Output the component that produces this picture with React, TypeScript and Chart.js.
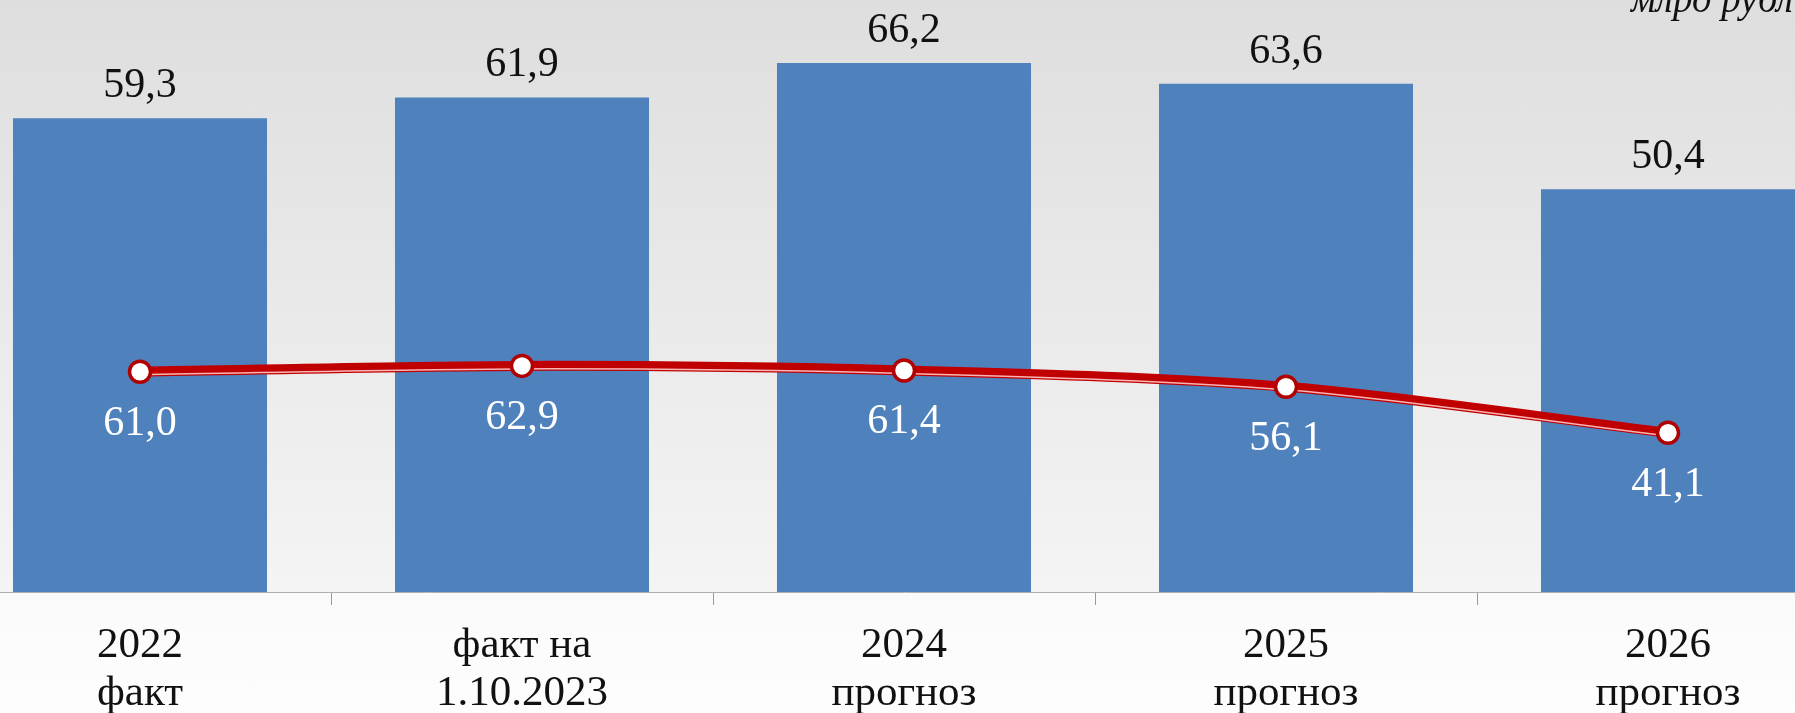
import { useEffect, useRef } from "react";
import { Chart, registerables } from "chart.js";

Chart.register(...registerables);

const categories = [
  ["2022", "факт"],
  ["факт на", "1.10.2023"],
  ["2024", "прогноз"],
  ["2025", "прогноз"],
  ["2026", "прогноз"],
];
const barValues = [59.3, 61.9, 66.2, 63.6, 50.4];
const lineValues = [61.0, 62.9, 61.4, 56.1, 41.1];
const unitLabel = "млрд рублей";

const SERIF = "'Liberation Serif', 'Times New Roman', serif";

// 61,0 instead of 61.0
const fmt = (v: number) => v.toFixed(1).replace(".", ",");

const labelsPlugin = {
  id: "valueLabels",
  afterDatasetsDraw(chart: any) {
    const ctx = chart.ctx;
    ctx.save();
    ctx.textAlign = "center";
    ctx.textBaseline = "alphabetic";
    ctx.font = `42px ${SERIF}`;

    chart.getDatasetMeta(0).data.forEach((el: any, i: number) => {
      ctx.fillStyle = "#111";
      ctx.fillText(fmt(barValues[i]), el.x, el.y - 21);
    });
    chart.getDatasetMeta(1).data.forEach((el: any, i: number) => {
      ctx.fillStyle = "#fff";
      ctx.fillText(fmt(lineValues[i]), el.x, el.y + 63);
    });

    // unit caption, top right (cut by the frame like in the source)
    ctx.font = `italic 39px ${SERIF}`;
    ctx.textAlign = "left";
    ctx.fillStyle = "#111";
    ctx.fillText(unitLabel, chart.scales.x.getPixelForValue(4) - 37, chart.chartArea.top + 52);
    ctx.restore();
  },
};

// the thin light stripe of the red line sits in its lower part
const shiftPlugin = {
  id: "shiftHighlight",
  beforeDatasetDraw(chart: any, args: any) {
    if (args.index === 2) {
      chart.ctx.save();
      chart.ctx.translate(0, 3);
    }
  },
  afterDatasetDraw(chart: any, args: any) {
    if (args.index === 2) chart.ctx.restore();
  },
};

export default function App() {
  const chartRef = useRef<HTMLCanvasElement>(null);
  const chartInstance = useRef<Chart | null>(null);

  useEffect(() => {
    if (!chartRef.current) return;
    if (chartInstance.current) chartInstance.current.destroy();

    const ctx = chartRef.current.getContext("2d");
    if (!ctx) return;

    chartInstance.current = new Chart(ctx, {
      type: "bar",
      data: {
        labels: categories,
        datasets: [
          {
            type: "bar",
            data: barValues,
            yAxisID: "y",
            backgroundColor: "#4F81BD",
            categoryPercentage: 1,
            barPercentage: 0.665,
            order: 3,
          },
          {
            type: "line",
            data: lineValues,
            yAxisID: "y1",
            borderColor: "#C00000",
            borderWidth: 10,
            tension: 0.3,
            pointRadius: 0,
            fill: false,
            order: 2,
          },
          {
            type: "line",
            data: lineValues,
            yAxisID: "y1",
            borderColor: "rgba(255, 200, 200, 0.9)",
            borderWidth: 1.5,
            tension: 0.3,
            pointRadius: 0,
            fill: false,
            order: 1,
          },
          {
            type: "line",
            data: lineValues,
            yAxisID: "y1",
            showLine: false,
            pointRadius: 10.5,
            pointBorderWidth: 3.5,
            pointBackgroundColor: "#fff",
            pointBorderColor: "#B00000",
            order: 0,
          },
        ],
      } as any,
      options: {
        animation: false,
        responsive: true,
        maintainAspectRatio: false,
        events: [],
        layout: { padding: 0, autoPadding: false },
        plugins: {
          legend: { display: false },
          tooltip: { enabled: false },
        },
        scales: {
          x: {
            offset: true,
            grid: {
              offset: true,
              drawOnChartArea: false,
              drawTicks: true,
              tickLength: 13,
              color: "#9a9a9a",
            },
            border: { display: true, color: "#b0b0b0" },
            ticks: {
              color: "#111",
              font: { family: SERIF, size: 43, lineHeight: 1.11 },
              padding: 17,
              maxRotation: 0,
              autoSkip: false,
            },
            afterFit: (scale: any) => {
              scale.height = 121;
              scale.paddingLeft = 0;
              scale.paddingRight = 0;
              scale.paddingTop = 0;
              scale.paddingBottom = 0;
            },
          },
          y: { display: false, min: 0, max: 79.1 },
          y1: { display: false, position: "right", min: -10.75, max: 195.1 },
        },
      } as any,
      plugins: [labelsPlugin, shiftPlugin],
    });

    return () => {
      if (chartInstance.current) {
        chartInstance.current.destroy();
        chartInstance.current = null;
      }
    };
  }, []);

  return (
    <div
      style={{
        position: "fixed",
        left: 0,
        top: 0,
        width: 1795,
        height: 713,
        overflow: "hidden",
        background:
          "linear-gradient(to bottom, #dedede 0px, #f4f4f4 592px, #fafafa 593px, #fdfdfd 713px)",
      }}
    >
      <div style={{ position: "absolute", left: -51, top: -40, width: 1910, height: 753 }}>
        <canvas ref={chartRef}></canvas>
      </div>
    </div>
  );
}
